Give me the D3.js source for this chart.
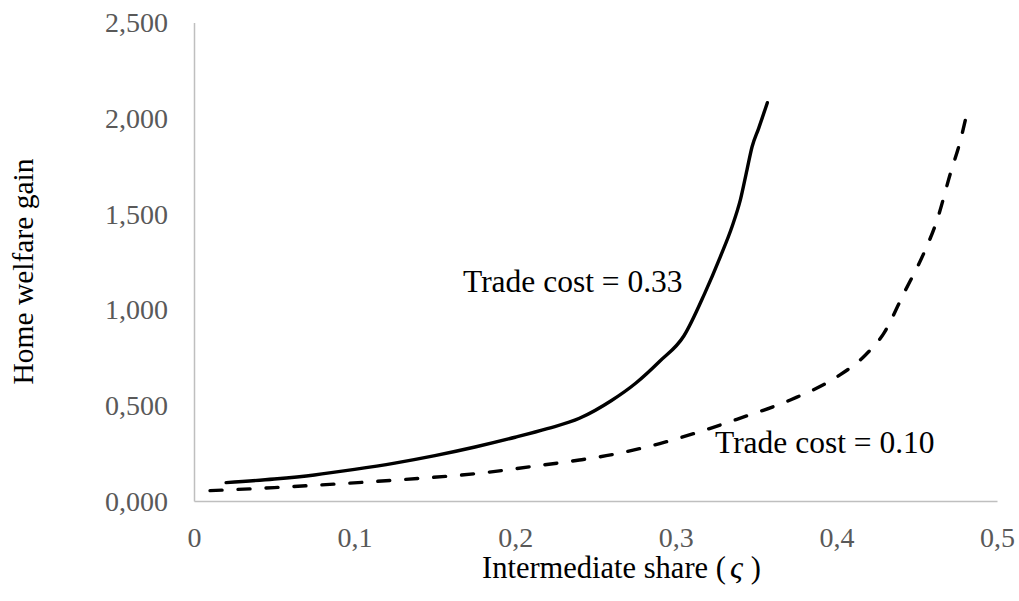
<!DOCTYPE html>
<html>
<head>
<meta charset="utf-8">
<script src="https://cdn.jsdelivr.net/npm/d3@7"></script>
<style>
  body { margin: 0; background: #fff; }
  text { font-family: "Liberation Serif", "Times New Roman", serif; }
</style>
</head>
<body>
<div id="chart"></div>
<script>
// values
var xTicks = [0, 0.1, 0.2, 0.3, 0.4, 0.5];
var yTicks = [0, 0.5, 1, 1.5, 2, 2.5];

// trade cost = 0.33 (solid)
var solidX = [0.02, 0.05, 0.075, 0.10, 0.125, 0.15, 0.175, 0.20, 0.22, 0.24, 0.26, 0.275, 0.29, 0.305, 0.318, 0.3277, 0.335, 0.3402, 0.3443, 0.3475, 0.3516, 0.357];
var solidY = [0.096, 0.115, 0.136, 0.165, 0.198, 0.237, 0.282, 0.333, 0.378, 0.432, 0.525, 0.615, 0.73, 0.862, 1.085, 1.276, 1.433, 1.573, 1.729, 1.851, 1.947, 2.081];

// trade cost = 0.10 (dashed)
var dashX = [0.01, 0.05, 0.095, 0.14, 0.178, 0.21, 0.24, 0.253, 0.29, 0.3215, 0.338, 0.3713, 0.4004, 0.417, 0.4295, 0.442, 0.4544, 0.4627, 0.471, 0.4773, 0.4804];
var dashY = [0.054, 0.07, 0.0925, 0.118, 0.145, 0.18, 0.214, 0.231, 0.30, 0.38, 0.427, 0.528, 0.649, 0.754, 0.876, 1.085, 1.294, 1.468, 1.712, 1.886, 1.994];

var W = 1019, H = 601;
var margin = {left: 194, right: 997, top: 22.5, bottom: 501};

var svg = d3.select("#chart")
  .append("svg")
  .attr("width", W)
  .attr("height", H);

var x = d3.scaleLinear().domain([0, 0.5]).range([margin.left, margin.right]);
var y = d3.scaleLinear().domain([0, 2.5]).range([margin.bottom, margin.top]);

var comma = function(s) { return s.replace(".", ","); };

// axes (no tick marks, light grey lines like excel)
var gx = svg.append("g")
  .attr("transform", "translate(0," + margin.bottom + ")")
  .call(d3.axisBottom(x).tickValues(xTicks).tickSize(0)
    .tickFormat(function(d) { return d === 0 ? "0" : comma(d3.format(".1f")(d)); }));
gx.select(".domain").attr("stroke", "#bfbfbf").attr("stroke-width", 1.5);
gx.selectAll("text")
  .attr("y", 46)
  .attr("dy", 0)
  .style("font-size", "28px")
  .style("fill", "#595959");

var gy = svg.append("g")
  .attr("transform", "translate(" + margin.left + ",0)")
  .call(d3.axisLeft(y).tickValues(yTicks).tickSize(0)
    .tickFormat(function(d) { return comma(d3.format(".3f")(d)); }));
gy.select(".domain").attr("stroke", "#bfbfbf").attr("stroke-width", 1.5);
gy.selectAll("text")
  .attr("x", -26)
  .attr("dy", "0.33em")
  .style("font-size", "28px")
  .style("fill", "#595959");

// lines
var line = d3.line()
  .x(function(d) { return x(d[0]); })
  .y(function(d) { return y(d[1]); })
  .curve(d3.curveMonotoneX);

svg.append("path")
  .datum(d3.zip(solidX, solidY))
  .attr("d", line)
  .attr("fill", "none")
  .attr("stroke", "#000")
  .attr("stroke-width", 3.4)
  .attr("stroke-linecap", "round");

svg.append("path")
  .datum(d3.zip(dashX, dashY))
  .attr("d", line)
  .attr("fill", "none")
  .attr("stroke", "#000")
  .attr("stroke-width", 3.4)
  .attr("stroke-linecap", "round")
  .attr("stroke-dasharray", "12,16");

// annotations
svg.append("text")
  .attr("x", 463)
  .attr("y", 292)
  .style("font-size", "31.5px")
  .style("fill", "#000")
  .text("Trade cost = 0.33");

svg.append("text")
  .attr("x", 715)
  .attr("y", 453)
  .style("font-size", "31.5px")
  .style("fill", "#000")
  .text("Trade cost = 0.10");

// axis titles
svg.append("text")
  .attr("transform", "translate(33,271.5)rotate(-90)")
  .attr("text-anchor", "middle")
  .style("font-size", "29.5px")
  .style("fill", "#000")
  .text("Home welfare gain");

var xt = svg.append("text")
  .attr("x", 482)
  .attr("y", 578)
  .style("font-size", "30.5px")
  .style("fill", "#000");
xt.append("tspan").text("Intermediate share (");
xt.append("tspan").attr("dx", 4).style("font-style", "italic").style("font-size", "32px").text("\u03C2");
xt.append("tspan").attr("dx", 8).text(")");
</script>
</body>
</html>
